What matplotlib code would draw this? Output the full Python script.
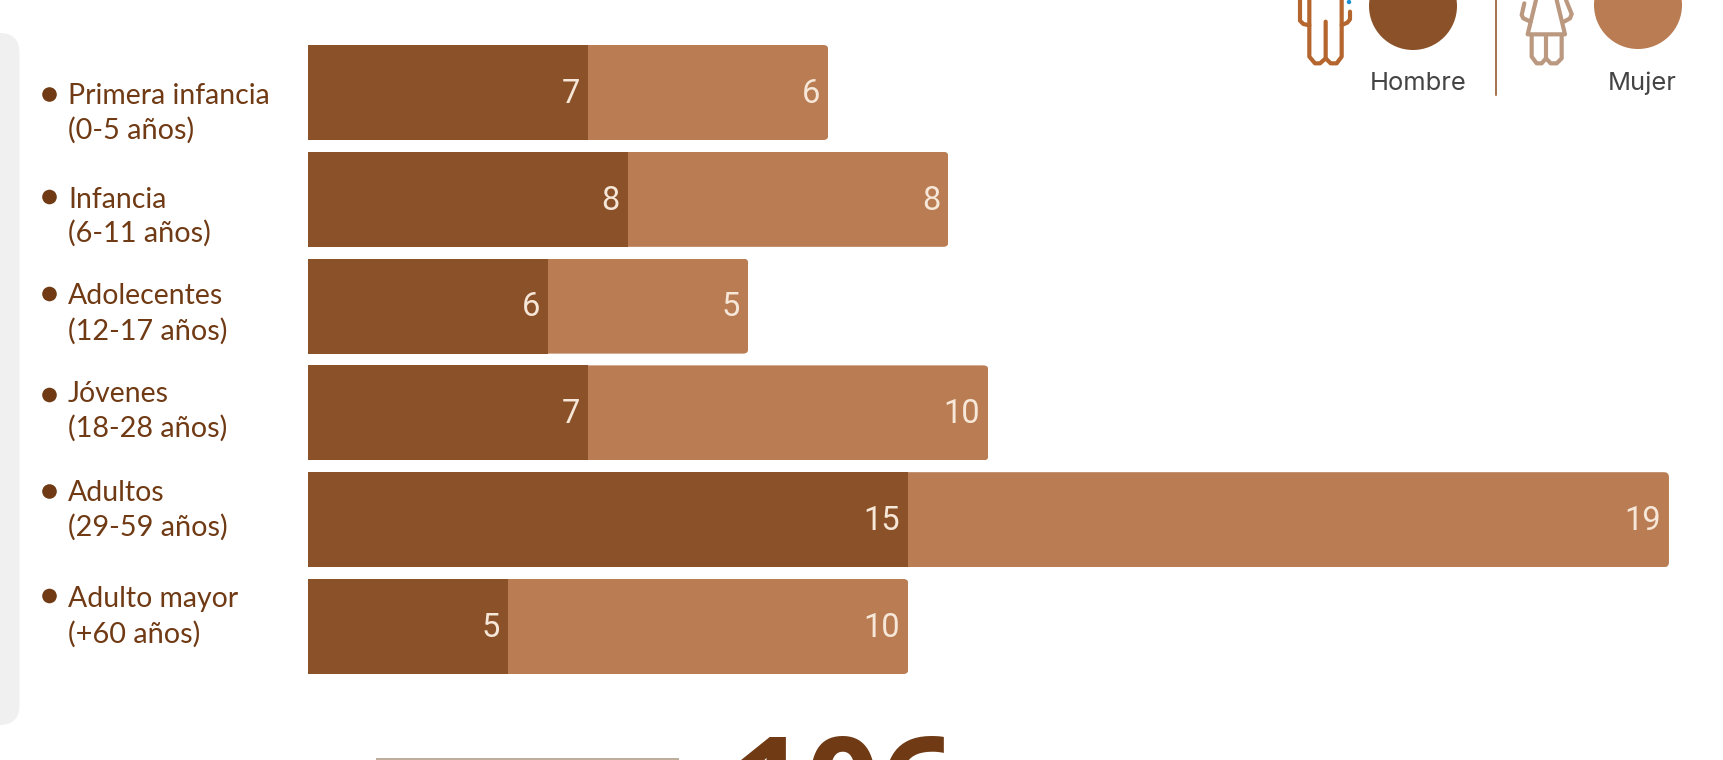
import matplotlib
matplotlib.use("Agg")
import matplotlib.pyplot as plt
from matplotlib.patches import Circle, FancyBboxPatch, Rectangle
from matplotlib.transforms import IdentityTransform

categories = ["Primera infancia", "Infancia", "Adolecentes", "Jóvenes", "Adultos", "Adulto mayor"]
age_ranges = ["(0-5 años)", "(6-11 años)", "(12-17 años)", "(18-28 años)", "(29-59 años)", "(+60 años)"]
hombre = [7, 8, 6, 7, 15, 5]
mujer = [6, 8, 5, 10, 19, 10]
total_text = "106"

C_H, C_M = "#8B5229", "#B97C53"
C_TXT = "#6F3A14"
W, H = 1724, 760
fig = plt.figure(figsize=(W / 100, H / 100), dpi=100, facecolor="white")

bg = fig.add_axes([0, 0, 1, 1])
bg.set_xlim(0, W); bg.set_ylim(H, 0); bg.axis("off")

# left grey panel
bg.add_patch(FancyBboxPatch((-40, 33), 59.5, 692, boxstyle="round,pad=0,rounding_size=20",
                            fc="#F0F0F0", ec="none"))

# category labels
line1_y = [96.5, 199.5, 296.5, 394, 493, 599.5]
line2_y = [130.5, 233.5, 331, 428.5, 527.5, 634]
dot_y = [94.5, 197, 294, 395, 491.5, 596]
for c, r, y1, y2, yd in zip(categories, age_ranges, line1_y, line2_y, dot_y):
    bg.add_patch(Circle((49.5, yd), 7.3, fc=C_TXT, ec="none"))
    bg.text(68, y1, c, fontsize=20.4, family="Lato", color=C_TXT, va="center", ha="left")
    bg.text(68, y2, r, fontsize=20.8, family="Lato", color=C_TXT, va="center", ha="left")

# bars
ax = fig.add_axes([308 / W, 1 - 679.9 / H, 1401 / W, 640.8 / H])
ax.set_xlim(0, 35); ax.set_ylim(5.5, -0.5); ax.axis("off"); ax.patch.set_alpha(0)
ys = list(range(len(categories)))
b1 = ax.barh(ys, hombre, height=0.89, color=C_H)
b2 = ax.barh(ys, mujer, left=hombre, height=0.89, color=C_M)
fig.canvas.draw()
for bar in b2:
    e = bar.get_window_extent()
    clip = FancyBboxPatch((e.x0 - 20, e.y0), e.width + 20, e.height,
                          boxstyle="round,pad=0,rounding_size=5", transform=IdentityTransform())
    bar.set_clip_path(clip)
for y, a, b in zip(ys, hombre, mujer):
    for val, end in ((a, a), (b, a + b)):
        ax.annotate(str(val), (end, y), xytext=(-6, -1), textcoords="offset points", ha="right",
                    va="center", fontsize=23.5, family="Roboto", color="#F6E7D8")

# legend
bg.add_patch(Circle((1413, 6), 44, fc=C_H, ec="none"))
bg.add_patch(Circle((1638, 5), 44, fc=C_M, ec="none"))
bg.plot([1496, 1496], [0, 95], color="#8B4A1C", lw=1.1)
bg.text(1418, 83, "Hombre", fontsize=18.4, family="Inter", color="#444444", ha="center", va="center")
bg.text(1642, 83, "Mujer", fontsize=18.4, family="Inter", color="#444444", ha="center", va="center")


def icon(points, color):
    xs = [1260 + p[0] / 3 for p in points]
    ys_ = [p[1] / 3 for p in points]
    bg.plot(xs, ys_, color=color, lw=3.0, solid_capstyle="round", solid_joinstyle="round")


MAN = "#B5652E"
icon([(120, 0), (120, 62), (130, 72), (148, 76)], MAN)
icon([(148, 0), (148, 170), (165, 190), (180, 190), (197, 175), (197, 65)], MAN)
icon([(197, 175), (212, 190), (230, 190), (245, 170), (245, 0)], MAN)
icon([(245, 75), (262, 68), (270, 58), (270, 35)], MAN)
bg.add_patch(Circle((1349, 2), 2.2, fc="#1B8FD0", ec="none"))
WOM = "#BB9880"
icon([(793, 10), (785, 45), (790, 55), (812, 65)], WOM)
icon([(828, 0), (803, 103), (915, 103), (890, 0)], WOM)
icon([(918, 0), (935, 42), (930, 55), (912, 65)], WOM)
icon([(815, 105), (815, 170), (830, 190), (845, 190), (858, 175), (858, 105)], WOM)
icon([(858, 175), (872, 190), (890, 190), (905, 175), (905, 105)], WOM)

# bottom, cut off by the picture edge
bg.add_patch(Rectangle((376, 758), 303, 3, fc="#BDAE9E", ec="none"))
bg.text(731, 831, total_text, fontsize=94, family="Open Sans", weight="bold", color=C_TXT,
        ha="left", va="baseline")

fig.savefig("out.png", dpi=100, facecolor="white")
